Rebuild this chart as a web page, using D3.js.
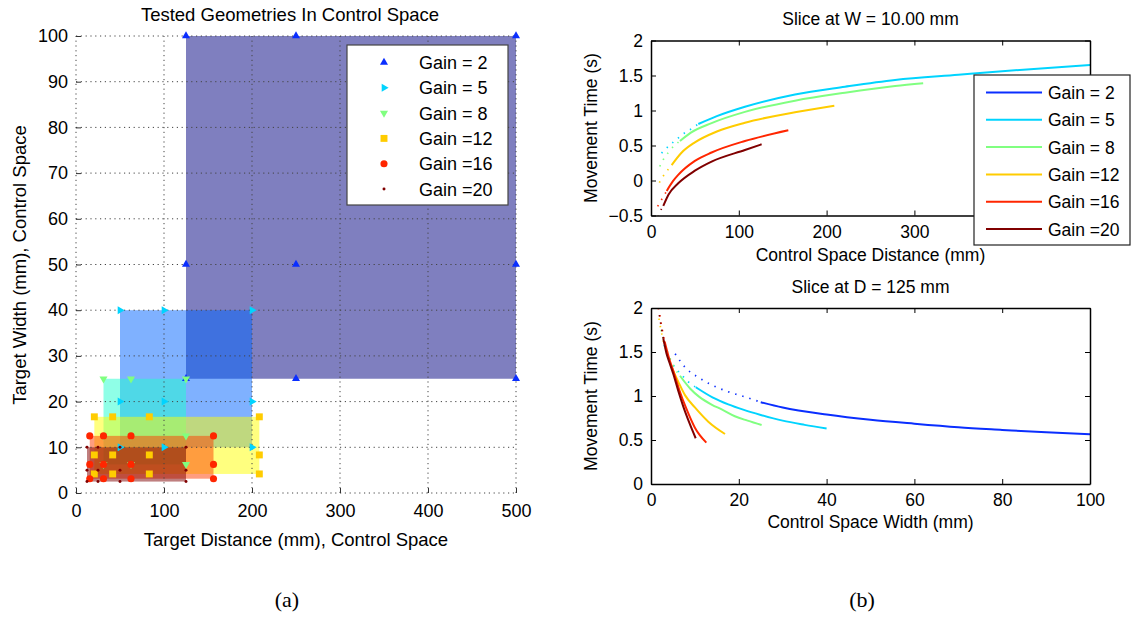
<!DOCTYPE html>
<html><head><meta charset="utf-8">
<script src="https://cdn.jsdelivr.net/npm/d3@7/dist/d3.min.js"></script>
<style>
body{margin:0;background:#fff;}
svg text{font-family:"Liberation Sans",Arial,Helvetica,sans-serif;fill:#000;}
</style></head><body>
<svg id="chart" width="1139" height="618"></svg>
<script>
// ---------------- data ----------------
const gains=[2,5,8,12,16,20];
const gainLabels=["Gain = 2","Gain = 5","Gain = 8","Gain =12","Gain =16","Gain =20"];
const lineColors=["#0a2eff","#00d4ff","#80ff80","#ffcc00","#ff2600","#800000"];
const rectColors=["#000080","#0064ff","#20ffd0","#ffff00","#ff3c00","#800000"];
const markerTypes=["up","right","down","square","circle","dot"];
// tested geometries in control space
const testedD=[[125,250,500],[50,100,200],[31.25,62.5,125],[20.83,41.67,83.33,208.33],[15.63,31.25,62.5,156.25],[12.5,25,50,125]];
const testedW=[[25,50,100],[10,20,40],[6.25,12.5,25],[4.17,8.33,16.67],[3.13,6.25,12.5],[2.5,5,10]];
const distTicks=[0,100,200,300,400,500];
const widthTicks=[0,10,20,30,40,50,60,70,80,90,100];
const sliceDTicks=[0,100,200,300,400,500];
const sliceDTickLabels=["0","100","200","300","",""]; // 400 and 500 are hidden behind the legend
const sliceTopYTicks=[-0.5,0,0.5,1,1.5,2];
const sliceWTicks=[0,20,40,60,80,100];
const sliceBotYTicks=[0,0.5,1,1.5,2];
// slice at W = 10 mm : [D, MT]
const topDotted=[[],
 [[12,0.39],[20.8,0.5],[28.5,0.58],[36,0.66],[44.4,0.726],[53.9,0.807]],
 [[10,0.2],[14,0.3],[19.7,0.4],[26.6,0.5],[33,0.564]],
 [[9.5,-0.03],[14,0.064],[19.7,0.16],[23.5,0.22]],
 [[7.6,-0.37],[12.2,-0.27],[17.9,-0.15]],
 [[8,-0.52],[10.3,-0.446],[14,-0.364]]];
const topSolid=[[],
 [[53.9,0.807],[75,0.92],[107,1.054],[164,1.23],[221,1.34],[278,1.436],[350,1.51],[420,1.58],[500,1.65]],
 [[33,0.564],[45,0.68],[69,0.82],[107,0.98],[164,1.14],[221,1.254],[278,1.35],[310,1.39]],
 [[23.5,0.22],[35,0.4],[50,0.545],[75,0.7],[107,0.826],[164,0.974],[208.8,1.069]],
 [[17.9,-0.15],[25,-0.01],[31,0.08],[50,0.28],[69,0.40],[107,0.564],[156.4,0.717]],
 [[14,-0.364],[20,-0.2],[31,-0.04],[50,0.14],[69,0.27],[107,0.436],[126,0.517]]];
// slice at D = 125 mm : [W, MT]
const botDotted=[
 [[5.5,1.48],[7.7,1.33],[10.8,1.21],[14.1,1.12],[17.5,1.05],[21.4,0.99],[25,0.93]],
 [[3,1.58],[3.8,1.47],[4.7,1.38],[5.7,1.31],[7,1.24],[8.5,1.16],[10.2,1.10]],
 [[2.28,1.75],[3.2,1.58],[4.33,1.43],[5.47,1.31],[6.6,1.23]],
 [[1.82,1.88],[2.6,1.67],[3.57,1.5],[4.48,1.35]],
 [[1.67,2.0],[2.05,1.9],[2.5,1.77],[3.1,1.62]],
 [[1.9,1.92],[2.3,1.8],[2.8,1.655]]];
const botSolid=[
 [[25,0.93],[30,0.87],[40,0.79],[50,0.73],[60,0.685],[70,0.645],[80,0.615],[90,0.587],[100,0.565]],
 [[10.2,1.10],[14,0.985],[17.6,0.905],[21,0.845],[25,0.785],[30,0.72],[35,0.672],[40,0.63]],
 [[6.6,1.23],[9,1.08],[11,0.99],[13.9,0.9],[16,0.85],[19.1,0.77],[22,0.72],[25.2,0.67]],
 [[4.48,1.35],[6.23,1.16],[7.74,1.01],[10,0.87],[13.05,0.708],[16.86,0.568]],
 [[3.1,1.62],[4,1.45],[5.3,1.25],[6.5,1.06],[8.1,0.85],[10,0.64],[12.6,0.47]],
 [[2.8,1.655],[3.5,1.49],[4.2,1.38],[5.08,1.25],[6.2,1.06],[7.36,0.88],[8.7,0.7],[10.18,0.52]]];

// ---------------- drawing ----------------
const svg=d3.select("#chart");
svg.append("rect").attr("width",1139).attr("height",618).attr("fill","#fff");

function drawMarker(g,type,color){
  let sym, size, rot=0;
  if(type==="up"){sym=d3.symbolTriangle;size=28;}
  else if(type==="right"){sym=d3.symbolTriangle;size=28;rot=90;}
  else if(type==="down"){sym=d3.symbolTriangle;size=28;rot=180;}
  else if(type==="square"){sym=d3.symbolSquare;size=48;}
  else if(type==="circle"){sym=d3.symbolCircle;size=40;}
  else {sym=d3.symbolCircle;size=7;}
  g.append("path").attr("d",d3.symbol(sym,size)()).attr("transform",`rotate(${rot})`).attr("fill",color);
}

// ===== left chart =====
const lx=d3.scaleLinear().domain([0,500]).range([76,516]);
const ly=d3.scaleLinear().domain([0,100]).range([493,36]);
const gL=svg.append("g");
gains.forEach((g,i)=>{
  const d=testedD[i], w=testedW[i];
  gL.append("rect")
    .attr("x",lx(d3.min(d))).attr("y",ly(d3.max(w)))
    .attr("width",lx(d3.max(d))-lx(d3.min(d)))
    .attr("height",ly(d3.min(w))-ly(d3.max(w)))
    .attr("fill",rectColors[i]).attr("fill-opacity",0.5);
});
// grid
const gridG=gL.append("g").attr("stroke","#444").attr("stroke-width",1).attr("stroke-dasharray","1.2,3.6");
distTicks.forEach(t=>gridG.append("line").attr("x1",lx(t)).attr("x2",lx(t)).attr("y1",ly(0)).attr("y2",ly(100)));
widthTicks.forEach(t=>gridG.append("line").attr("y1",ly(t)).attr("y2",ly(t)).attr("x1",lx(0)).attr("x2",lx(500)));
// axes (inward ticks)
const lxAxis=d3.axisBottom(lx).tickValues(distTicks).tickSizeInner(-5).tickSizeOuter(0).tickPadding(11).tickFormat(d3.format("d"));
const lyAxis=d3.axisLeft(ly).tickValues(widthTicks).tickSizeInner(-5).tickSizeOuter(0).tickPadding(8).tickFormat(d3.format("d"));
const ax1=gL.append("g").attr("transform",`translate(0,${ly(0)})`).call(lxAxis);
const ay1=gL.append("g").attr("transform",`translate(${lx(0)},0)`).call(lyAxis);
[ax1,ay1].forEach(a=>{a.select(".domain").remove();a.selectAll(".tick line").attr("stroke","#333");a.selectAll("text").attr("font-size",18).attr("font-family","Liberation Sans, Arial, sans-serif");});
// markers
gains.forEach((g,i)=>{
  testedD[i].forEach(d=>testedW[i].forEach(w=>{
    const m=gL.append("g").attr("transform",`translate(${lx(d)},${ly(w)})`);
    drawMarker(m,markerTypes[i],lineColors[i]);
  }));
});
// legend
const legL=gL.append("g");
legL.append("rect").attr("x",347).attr("y",45).attr("width",161).attr("height",160).attr("fill","#fff").attr("stroke","#444").attr("stroke-width",1.2);
gains.forEach((g,i)=>{
  const yy=62.5+25.3*i;
  const m=legL.append("g").attr("transform",`translate(384,${yy})`);
  drawMarker(m,markerTypes[i],lineColors[i]);
  legL.append("text").attr("x",419).attr("y",yy+6.5).attr("font-size",18).text(gainLabels[i]);
});
gL.append("text").attr("x",290).attr("y",21).attr("text-anchor","middle").attr("font-size",18.5).text("Tested Geometries In Control Space");
gL.append("text").attr("x",296).attr("y",546).attr("text-anchor","middle").attr("font-size",18.5).text("Target Distance (mm), Control Space");
gL.append("text").attr("transform","translate(26,265) rotate(-90)").attr("text-anchor","middle").attr("font-size",18.5).text("Target Width (mm), Control Space");

// ===== right charts =====
function slicePanel(opts){
  const g=svg.append("g");
  const x=opts.x, y=opts.y;
  const [x0,x1]=x.range(), [y0,y1]=y.range();
  const clipId=opts.id+"clip";
  g.append("clipPath").attr("id",clipId).append("rect").attr("x",x0).attr("y",y1).attr("width",x1-x0).attr("height",y0-y1);
  const plot=g.append("g").attr("clip-path",`url(#${clipId})`);
  const line=d3.line().x(d=>x(d[0])).y(d=>y(d[1])).curve(d3.curveMonotoneX);
  opts.order.forEach(i=>{
    if(opts.dotted[i].length) plot.append("path").attr("d",line(opts.dotted[i])).attr("fill","none")
      .attr("stroke",lineColors[i]).attr("stroke-width",1.7).attr("stroke-dasharray","1.4,6");
    if(opts.solid[i].length) plot.append("path").attr("d",line(opts.solid[i])).attr("fill","none")
      .attr("stroke",lineColors[i]).attr("stroke-width",2);
  });
  const fmt=opts.xfmt||d3.format("~g");
  const axB=d3.axisBottom(x).tickValues(opts.xt).tickSizeInner(-5).tickSizeOuter(0).tickPadding(10).tickFormat(fmt);
  const axT=d3.axisTop(x).tickValues(opts.xt).tickSizeInner(-5).tickSizeOuter(0).tickFormat("");
  const axL=d3.axisLeft(y).tickValues(opts.yt).tickSizeInner(-5).tickSizeOuter(0).tickPadding(8).tickFormat(d3.format("~g"));
  const axR=d3.axisRight(y).tickValues(opts.yt).tickSizeInner(-5).tickSizeOuter(0).tickFormat("");
  const a1=g.append("g").attr("transform",`translate(0,${y0})`).call(axB);
  const a2=g.append("g").attr("transform",`translate(0,${y1})`).call(axT);
  const a3=g.append("g").attr("transform",`translate(${x0},0)`).call(axL);
  const a4=g.append("g").attr("transform",`translate(${x1},0)`).call(axR);
  [a1,a2,a3,a4].forEach(a=>{a.select(".domain").attr("stroke","#000").attr("stroke-width",1.5);a.selectAll(".tick line").attr("stroke","#000");
    a.selectAll("text").attr("font-size",17.5).attr("font-family","Liberation Sans, Arial, sans-serif");});
  a1.selectAll(".tick text").filter(function(){return this.textContent==="";}).remove();
  g.append("text").attr("x",(x0+x1)/2).attr("y",opts.titleY).attr("text-anchor","middle").attr("font-size",17.5).text(opts.title);
  g.append("text").attr("x",(x0+x1)/2).attr("y",opts.xlabY).attr("text-anchor","middle").attr("font-size",17.5).text(opts.xlab);
  g.append("text").attr("transform",`translate(597,${(y0+y1)/2}) rotate(-90)`).attr("text-anchor","middle").attr("font-size",17.5).text("Movement Time (s)");
  return g;
}
const tx=d3.scaleLinear().domain([0,500]).range([651,1090]);
const ty=d3.scaleLinear().domain([-0.5,2]).range([215.5,40.5]);
const gTop=slicePanel({id:"top",x:tx,y:ty,xt:sliceDTicks,yt:sliceTopYTicks,dotted:topDotted,solid:topSolid,order:[0,1,2,3,4,5],
  xfmt:(d,i)=>sliceDTickLabels[i],
  title:"Slice at W = 10.00 mm",titleY:25,xlab:"Control Space Distance (mm)",xlabY:261});
// legend for top slice
const legR=gTop.append("g");
legR.append("rect").attr("x",974).attr("y",75).attr("width",156).attr("height",170).attr("fill","#fff").attr("stroke","#222").attr("stroke-width",1.2);
gains.forEach((g,i)=>{
  const yy=92.5+27.3*i;
  legR.append("line").attr("x1",986).attr("x2",1042).attr("y1",yy).attr("y2",yy).attr("stroke",lineColors[i]).attr("stroke-width",2);
  legR.append("text").attr("x",1048).attr("y",yy+6.5).attr("font-size",17.5).text(gainLabels[i]);
});
const bx=d3.scaleLinear().domain([0,100]).range([651,1090]);
const by=d3.scaleLinear().domain([0,2]).range([484,308]);
slicePanel({id:"bot",x:bx,y:by,xt:sliceWTicks,yt:sliceBotYTicks,dotted:botDotted,solid:botSolid,order:[0,1,2,3,4,5],
  title:"Slice at D = 125 mm",titleY:293,xlab:"Control Space Width (mm)",xlabY:528});

// captions
svg.append("text").attr("x",287).attr("y",607).attr("text-anchor","middle").attr("font-size",22).style("font-family","'Liberation Serif', 'DejaVu Serif', serif").text("(a)");
svg.append("text").attr("x",862).attr("y",607).attr("text-anchor","middle").attr("font-size",22).style("font-family","'Liberation Serif', 'DejaVu Serif', serif").text("(b)");
</script></body></html>
